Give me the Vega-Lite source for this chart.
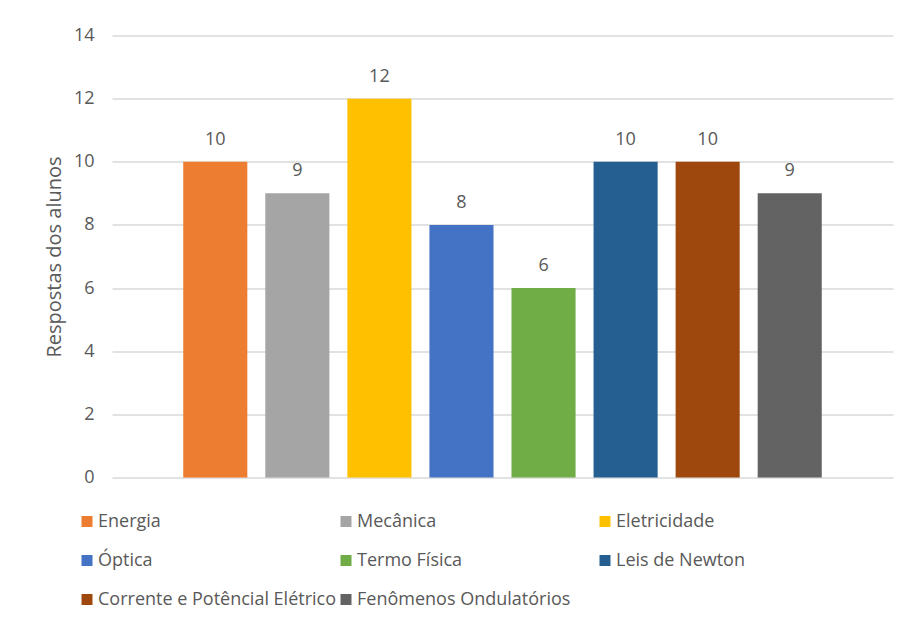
{
  "$schema": "https://vega.github.io/schema/vega-lite/v6.json",
  "autosize": "none",
  "width": 781,
  "height": 442,
  "padding": {"left": 112, "top": 35.5, "right": 13, "bottom": 141.5},
  "background": "white",
  "config": {
    "view": {"stroke": null},
    "font": "Open Sans",
    "axis": {"labelFont": "Open Sans", "titleFont": "Open Sans"},
    "legend": {"labelFont": "Open Sans"}
  },
  "data": {
    "values": [
      {"topico": "Energia", "respostas": 10},
      {"topico": "Mecânica", "respostas": 9},
      {"topico": "Eletricidade", "respostas": 12},
      {"topico": "Óptica", "respostas": 8},
      {"topico": "Termo Física", "respostas": 6},
      {"topico": "Leis de Newton", "respostas": 10},
      {"topico": "Corrente e Potêncial Elétrico", "respostas": 10},
      {"topico": "Fenômenos Ondulatórios", "respostas": 9}
    ]
  },
  "encoding": {
    "x": {
      "field": "topico",
      "type": "nominal",
      "sort": null,
      "scale": {"paddingInner": 0.219, "paddingOuter": 0.868},
      "axis": null
    },
    "y": {
      "field": "respostas",
      "type": "quantitative",
      "scale": {"domain": [0, 14], "nice": false},
      "axis": {
        "values": [0, 2, 4, 6, 8, 10, 12, 14],
        "title": "Respostas dos alunos",
        "titleFontSize": 20,
        "titleFontWeight": "normal",
        "titleColor": "#595959",
        "titlePadding": 9,
        "labelFontSize": 18,
        "labelColor": "#595959",
        "labelPadding": 18,
        "domain": false,
        "ticks": false,
        "grid": true,
        "gridColor": "#D9D9D9",
        "gridWidth": 1.3
      }
    }
  },
  "layer": [
    {
      "mark": {"type": "bar"},
      "encoding": {
        "color": {
          "field": "topico",
          "type": "nominal",
          "sort": null,
          "scale": {
            "domain": ["Energia", "Mecânica", "Eletricidade", "Óptica", "Termo Física", "Leis de Newton", "Corrente e Potêncial Elétrico", "Fenômenos Ondulatórios"],
            "range": ["#ED7D31", "#A5A5A5", "#FFC000", "#4472C4", "#70AD47", "#255E91", "#9E480E", "#636363"]
          },
          "legend": {
            "title": null,
            "orient": "none",
            "legendX": -34,
            "legendY": 477,
            "direction": "horizontal",
            "columns": 3,
            "gridAlign": "all",
            "columnPadding": 0,
            "rowPadding": 21,
            "padding": 0,
            "symbolType": "square",
            "symbolSize": 121,
            "symbolStrokeWidth": 0,
            "labelFontSize": 18,
            "labelColor": "#595959",
            "labelOffset": 2,
            "labelLimit": 400
          }
        }
      }
    },
    {
      "mark": {"type": "text", "dy": -22, "baseline": "middle", "fontSize": 18, "color": "#595959"},
      "encoding": {
        "text": {"field": "respostas", "type": "quantitative"}
      }
    }
  ]
}
